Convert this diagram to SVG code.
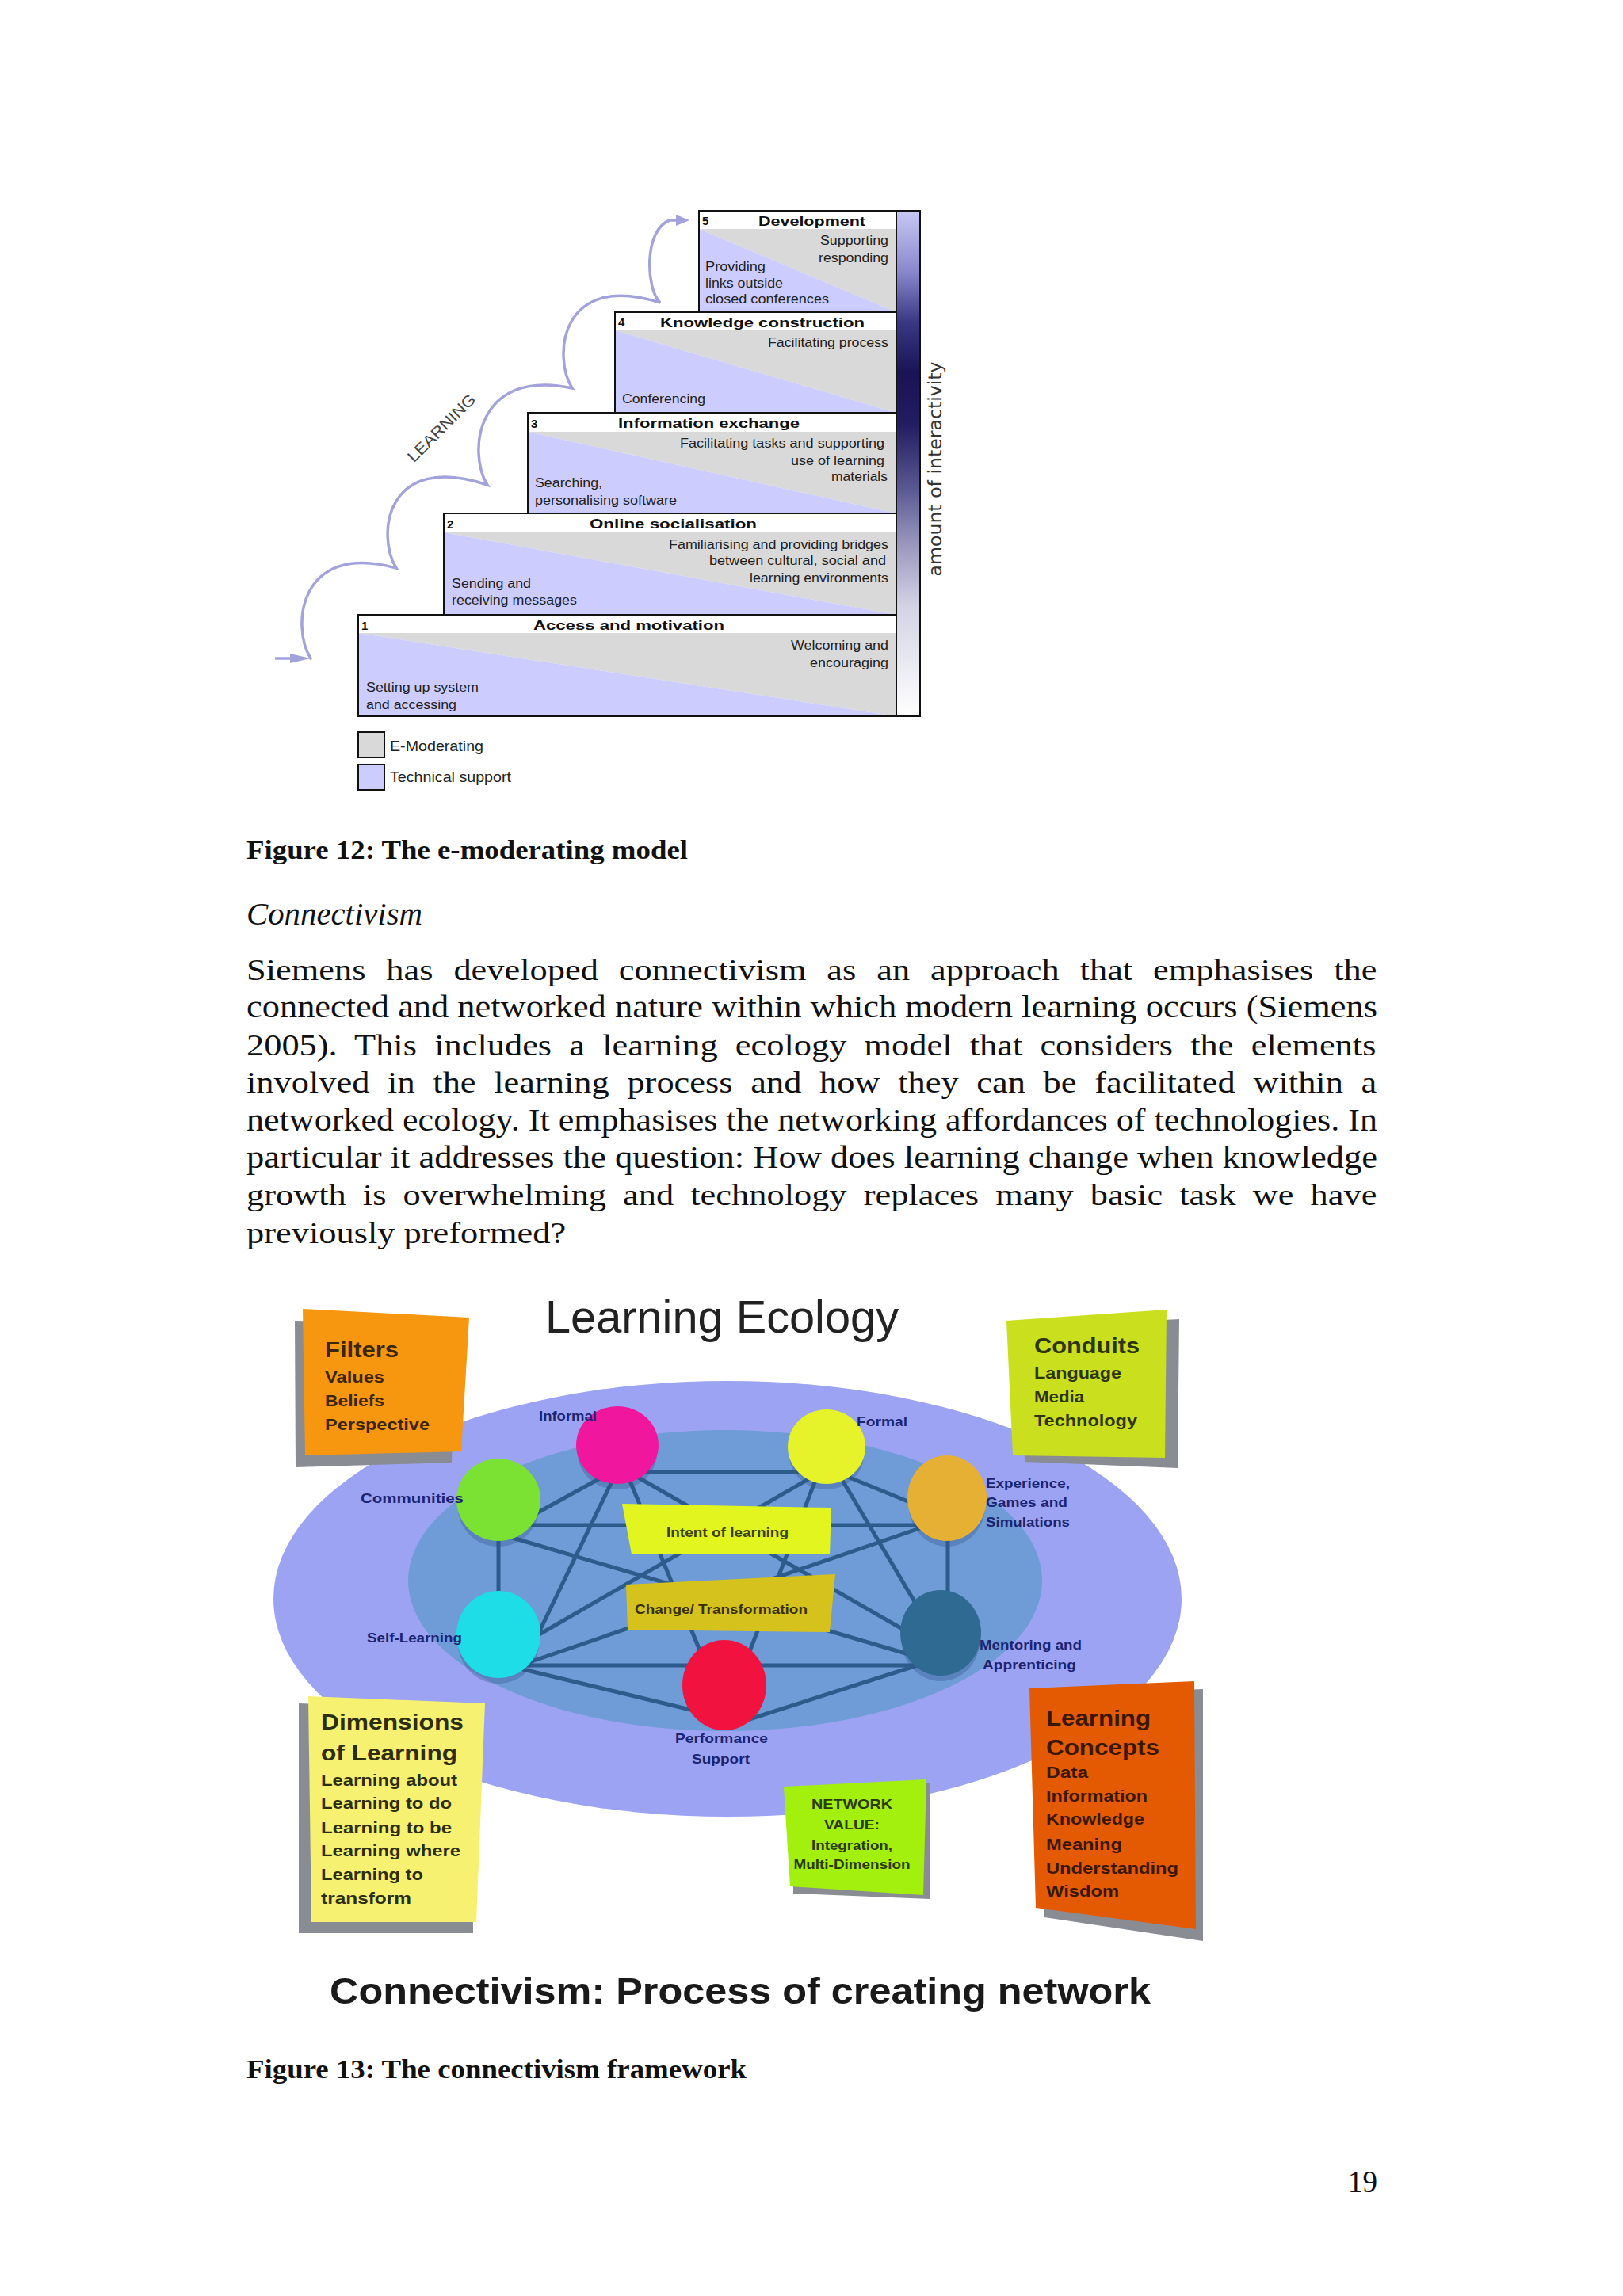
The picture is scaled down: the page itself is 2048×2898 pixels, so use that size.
<svg xmlns="http://www.w3.org/2000/svg" width="2048" height="2898" viewBox="0 0 2048 2898">
<defs>
<linearGradient id="barGrad" x1="0" y1="0" x2="0" y2="1">
<stop offset="0" stop-color="#c8c8f4"/>
<stop offset="0.12" stop-color="#8a88cc"/>
<stop offset="0.22" stop-color="#3a3884"/>
<stop offset="0.32" stop-color="#1a1456"/>
<stop offset="0.42" stop-color="#221c60"/>
<stop offset="0.55" stop-color="#5a5892"/>
<stop offset="0.65" stop-color="#9492ba"/>
<stop offset="0.78" stop-color="#d2d2e4"/>
<stop offset="1" stop-color="#ffffff"/>
</linearGradient>
<style>
.sans{font-family:'Liberation Sans',Arial,sans-serif}
.ser{font-family:'Liberation Serif','Times New Roman',serif}
.hdr{font-family:'Liberation Sans',Arial,sans-serif;font-weight:bold;font-size:17px;fill:#111}
.num{font-family:'Liberation Sans',Arial,sans-serif;font-weight:bold;font-size:15px;fill:#111}
.bt{font-family:'Liberation Sans',Arial,sans-serif;font-size:16px;fill:#222}
.end{text-anchor:end}
.lg{font-family:'Liberation Sans',Arial,sans-serif;font-size:19px;fill:#222}
.boxo{fill:none;stroke:#111;stroke-width:2}
.grey{fill:#d9d9d9}
.lav{fill:#ccccff}
.hd{fill:#ffffff}
.curve{fill:none;stroke:#a2a2dc;stroke-width:3.5;stroke-linecap:round}
.body{font-family:'Liberation Serif','Times New Roman',serif;font-size:39px;fill:#111}
.cap{font-family:'Liberation Serif','Times New Roman',serif;font-size:34px;font-weight:bold;fill:#111}
.edge{stroke:#2d5c8c;stroke-width:5;stroke-linecap:round}
.lab{font-family:'Liberation Sans',Arial,sans-serif;font-weight:bold;font-size:17px;fill:#1c2472}
.st1{font-family:'Liberation Sans',Arial,sans-serif;font-weight:bold;font-size:28px}
.st2{font-family:'Liberation Sans',Arial,sans-serif;font-weight:bold;font-size:21px}
.st3{font-family:'Liberation Sans',Arial,sans-serif;font-weight:bold;font-size:17px}
.shadow{fill:#8a8c94}
.cs{fill:#34548c;opacity:0.35}
</style>
</defs>
<rect x="0" y="0" width="2048" height="2898" fill="#ffffff"/>

<!-- ===== Figure 12: e-moderating model ===== -->
<g id="stage1">
<rect class="hd" x="452" y="776" width="679" height="23"/>
<polygon class="grey" points="452,799 1131,799 1131,904"/>
<polygon class="lav" points="452,799 1131,904 452,904"/>
<rect class="boxo" x="452" y="776" width="679" height="128"/>
<text class="num" x="456" y="795">1</text>
<text class="hdr" x="673" y="795" textLength="241" lengthAdjust="spacingAndGlyphs">Access and motivation</text>
<text class="bt end" x="1121" y="820" textLength="123" lengthAdjust="spacingAndGlyphs">Welcoming and</text>
<text class="bt end" x="1121" y="842" textLength="99" lengthAdjust="spacingAndGlyphs">encouraging</text>
<text class="bt" x="462" y="873" textLength="142" lengthAdjust="spacingAndGlyphs">Setting up system</text>
<text class="bt" x="462" y="895" textLength="114" lengthAdjust="spacingAndGlyphs">and accessing</text>
</g>
<g id="stage2">
<rect class="hd" x="560" y="648" width="571" height="24"/>
<polygon class="grey" points="560,672 1131,672 1131,776"/>
<polygon class="lav" points="560,672 1131,776 560,776"/>
<rect class="boxo" x="560" y="648" width="571" height="128"/>
<text class="num" x="564" y="667">2</text>
<text class="hdr" x="744" y="667" textLength="211" lengthAdjust="spacingAndGlyphs">Online socialisation</text>
<text class="bt end" x="1121" y="693" textLength="277" lengthAdjust="spacingAndGlyphs">Familiarising and providing bridges</text>
<text class="bt end" x="1118" y="713" textLength="223" lengthAdjust="spacingAndGlyphs">between cultural, social and</text>
<text class="bt end" x="1121" y="735" textLength="175" lengthAdjust="spacingAndGlyphs">learning environments</text>
<text class="bt" x="570" y="742" textLength="100" lengthAdjust="spacingAndGlyphs">Sending and</text>
<text class="bt" x="570" y="763" textLength="158" lengthAdjust="spacingAndGlyphs">receiving messages</text>
</g>
<g id="stage3">
<rect class="hd" x="666" y="521" width="465" height="24"/>
<polygon class="grey" points="666,545 1131,545 1131,648"/>
<polygon class="lav" points="666,545 1131,648 666,648"/>
<rect class="boxo" x="666" y="521" width="465" height="127"/>
<text class="num" x="670" y="540">3</text>
<text class="hdr" x="780" y="540" textLength="229" lengthAdjust="spacingAndGlyphs">Information exchange</text>
<text class="bt end" x="1116" y="565" textLength="258" lengthAdjust="spacingAndGlyphs">Facilitating tasks and supporting</text>
<text class="bt end" x="1116" y="587" textLength="118" lengthAdjust="spacingAndGlyphs">use of learning</text>
<text class="bt end" x="1120" y="607" textLength="71" lengthAdjust="spacingAndGlyphs">materials</text>
<text class="bt" x="675" y="615" textLength="85" lengthAdjust="spacingAndGlyphs">Searching,</text>
<text class="bt" x="675" y="637" textLength="179" lengthAdjust="spacingAndGlyphs">personalising software</text>
</g>
<g id="stage4">
<rect class="hd" x="776" y="394" width="355" height="23"/>
<polygon class="grey" points="776,417 1131,417 1131,521"/>
<polygon class="lav" points="776,417 1131,521 776,521"/>
<rect class="boxo" x="776" y="394" width="355" height="127"/>
<text class="num" x="780" y="412">4</text>
<text class="hdr" x="833" y="413" textLength="258" lengthAdjust="spacingAndGlyphs">Knowledge construction</text>
<text class="bt end" x="1121" y="438" textLength="152" lengthAdjust="spacingAndGlyphs">Facilitating process</text>
<text class="bt" x="785" y="509" textLength="105" lengthAdjust="spacingAndGlyphs">Conferencing</text>
</g>
<g id="stage5">
<rect class="hd" x="882" y="266" width="249" height="23"/>
<polygon class="grey" points="882,289 1131,289 1131,394"/>
<polygon class="lav" points="882,289 1131,394 882,394"/>
<rect class="boxo" x="882" y="266" width="249" height="128"/>
<text class="num" x="886" y="284">5</text>
<text class="hdr" x="957" y="285" textLength="135" lengthAdjust="spacingAndGlyphs">Development</text>
<text class="bt end" x="1121" y="309" textLength="86" lengthAdjust="spacingAndGlyphs">Supporting</text>
<text class="bt end" x="1121" y="331" textLength="88" lengthAdjust="spacingAndGlyphs">responding</text>
<text class="bt" x="890" y="342" textLength="76" lengthAdjust="spacingAndGlyphs">Providing</text>
<text class="bt" x="890" y="363" textLength="98" lengthAdjust="spacingAndGlyphs">links outside</text>
<text class="bt" x="890" y="383" textLength="156" lengthAdjust="spacingAndGlyphs">closed conferences</text>
</g>
<g id="interactivity-bar">
<rect x="1131" y="266" width="30" height="638" fill="url(#barGrad)" stroke="#111" stroke-width="2"/>
<text transform="translate(1188,592) rotate(-90)" text-anchor="middle" font-family="'DejaVu Sans',Verdana,sans-serif" font-size="23" fill="#333" textLength="271" lengthAdjust="spacingAndGlyphs">amount of interactivity</text>
</g>
<g id="legend">
<rect x="452" y="924" width="33" height="32" fill="#d9d9d9" stroke="#111" stroke-width="2"/>
<text class="lg" x="492" y="948" textLength="118" lengthAdjust="spacingAndGlyphs">E-Moderating</text>
<rect x="452" y="965" width="33" height="32" fill="#ccccff" stroke="#111" stroke-width="2"/>
<text class="lg" x="492" y="987" textLength="153" lengthAdjust="spacingAndGlyphs">Technical support</text>
</g>
<g id="learning-path">
<path class="curve" d="M392,831 C367,791 377,683 500,717 C475,677 485,569 615,612 C590,572 600,464 722,490 C697,450 707,342 833,382 C815,365 812,290 845,278 L858,278"/>
<polygon points="853,271 870,278 853,285" fill="#a2a2dc"/>
<line x1="347" y1="831" x2="372" y2="831" stroke="#a2a2dc" stroke-width="3.5"/>
<polygon points="366,825 392,831 366,837" fill="#a2a2dc"/>
<text transform="translate(557,540) rotate(-45)" text-anchor="middle" y="7" class="sans" font-size="20" fill="#444" textLength="112" lengthAdjust="spacingAndGlyphs">LEARNING</text>
</g>

<!-- ===== Text ===== -->
<text class="cap" x="311" y="1084" textLength="557" lengthAdjust="spacingAndGlyphs">Figure 12: The e-moderating model</text>
<text class="ser" x="311" y="1167" font-size="40" font-style="italic" fill="#111" textLength="222" lengthAdjust="spacingAndGlyphs">Connectivism</text>
<g id="paragraph">
<g transform="translate(311,0) scale(1.139,1)">
<text class="body" x="0" y="1237" word-spacing="12.97">Siemens has developed connectivism as an approach that emphasises the</text>
<text class="body" x="0" y="1332" word-spacing="9.71">2005). This includes a learning ecology model that considers the elements</text>
<text class="body" x="0" y="1379" word-spacing="10.17">involved in the learning process and how they can be facilitated within a</text>
<text class="body" x="0" y="1521" word-spacing="8.75">growth is overwhelming and technology replaces many basic task we have</text>
<text class="body" x="0" y="1569">previously preformed?</text>
</g>
<text class="body" x="311" y="1284" textLength="1427" lengthAdjust="spacingAndGlyphs">connected and networked nature within which modern learning occurs (Siemens</text>
<text class="body" x="311" y="1427" textLength="1427" lengthAdjust="spacingAndGlyphs">networked ecology. It emphasises the networking affordances of technologies. In</text>
<text class="body" x="311" y="1474" textLength="1427" lengthAdjust="spacingAndGlyphs">particular it addresses the question: How does learning change when knowledge</text>
</g>

<!-- ===== Figure 13: Learning ecology ===== -->
<g id="ecology-background">
<ellipse cx="918" cy="2018" rx="573" ry="275" fill="#9ba3f2"/>
<ellipse cx="915" cy="1995" rx="400" ry="190" fill="#6f9bd6"/>
</g>
<text class="sans" x="688" y="1682" font-size="57" fill="#222" textLength="446" lengthAdjust="spacingAndGlyphs">Learning Ecology</text>
<g id="filters">
<polygon class="shadow" points="372,1667 575,1672 570,1846 373,1852"/>
<polygon points="382,1652 592,1663 582,1832 385,1837" fill="#f7960f"/>
<text class="st1" x="410" y="1713" fill="#3b2608" textLength="93" lengthAdjust="spacingAndGlyphs">Filters</text>
<text class="st2" x="410" y="1745" fill="#3b2608" textLength="75" lengthAdjust="spacingAndGlyphs">Values</text>
<text class="st2" x="410" y="1775" fill="#3b2608" textLength="75" lengthAdjust="spacingAndGlyphs">Beliefs</text>
<text class="st2" x="410" y="1805" fill="#3b2608" textLength="132" lengthAdjust="spacingAndGlyphs">Perspective</text>
</g>
<g id="conduits">
<polygon class="shadow" points="1290,1675 1488,1665 1486,1853 1293,1845"/>
<polygon points="1270,1667 1472,1653 1470,1840 1278,1837" fill="#cadf1e"/>
<text class="st1" x="1305" y="1708" fill="#2d3510" textLength="133" lengthAdjust="spacingAndGlyphs">Conduits</text>
<text class="st2" x="1305" y="1740" fill="#2d3510" textLength="110" lengthAdjust="spacingAndGlyphs">Language</text>
<text class="st2" x="1305" y="1770" fill="#2d3510" textLength="63" lengthAdjust="spacingAndGlyphs">Media</text>
<text class="st2" x="1305" y="1800" fill="#2d3510" textLength="130" lengthAdjust="spacingAndGlyphs">Technology</text>
</g>
<g id="connectors">
<line class="edge" x1="790" y1="1858" x2="1020" y2="1858"/>
<line class="edge" x1="768" y1="1860" x2="668" y2="1915"/>
<line class="edge" x1="790" y1="1856" x2="1170" y2="2074"/>
<line class="edge" x1="785" y1="1845" x2="890" y2="2100"/>
<line class="edge" x1="776" y1="1862" x2="672" y2="2077"/>
<line class="edge" x1="660" y1="1925" x2="1170" y2="1925"/>
<line class="edge" x1="629" y1="1920" x2="629" y2="2040"/>
<line class="edge" x1="640" y1="1939" x2="1160" y2="2092"/>
<line class="edge" x1="1025" y1="1864" x2="670" y2="2069"/>
<line class="edge" x1="1036" y1="1850" x2="940" y2="2100"/>
<line class="edge" x1="1055" y1="1855" x2="1165" y2="2040"/>
<line class="edge" x1="1060" y1="1860" x2="1170" y2="1905"/>
<line class="edge" x1="1175" y1="1924" x2="665" y2="2099"/>
<line class="edge" x1="1196" y1="1930" x2="1196" y2="2030"/>
<line class="edge" x1="660" y1="2102" x2="1170" y2="2102"/>
<line class="edge" x1="660" y1="2107" x2="900" y2="2165"/>
<line class="edge" x1="930" y1="2175" x2="1170" y2="2098"/>
</g>
<g id="intent">
<polygon points="785,1898 1049,1903 1047,1962 797,1962" fill="#e2f51e"/>
<text class="st3" x="918" y="1940" text-anchor="middle" fill="#3a4010" textLength="154" lengthAdjust="spacingAndGlyphs">Intent of learning</text>
</g>
<g id="change">
<polygon points="790,2000 1054,1987 1047,2060 792,2057" fill="#d6c21c"/>
<text class="st3" x="910" y="2037" text-anchor="middle" fill="#3a3008" textLength="218" lengthAdjust="spacingAndGlyphs">Change/ Transformation</text>
</g>
<g id="informal"><ellipse class="cs" cx="779" cy="1834" rx="50" ry="46"/><ellipse cx="779" cy="1824" rx="52" ry="49" fill="#f0169e"/><text class="lab" x="680" y="1793" textLength="73" lengthAdjust="spacingAndGlyphs">Informal</text></g>
<g id="formal"><ellipse class="cs" cx="1043" cy="1836" rx="47" ry="44"/><ellipse cx="1043" cy="1826" rx="49" ry="47" fill="#e6f22a"/><text class="lab" x="1081" y="1800" textLength="64" lengthAdjust="spacingAndGlyphs">Formal</text></g>
<g id="experience"><ellipse class="cs" cx="1195" cy="1901" rx="48" ry="51"/><ellipse cx="1195" cy="1891" rx="50" ry="54" fill="#e6b035"/><text class="lab" x="1244" y="1878" textLength="106" lengthAdjust="spacingAndGlyphs">Experience,</text><text class="lab" x="1244" y="1902" textLength="103" lengthAdjust="spacingAndGlyphs">Games and</text><text class="lab" x="1244" y="1927" textLength="106" lengthAdjust="spacingAndGlyphs">Simulations</text></g>
<g id="communities"><ellipse class="cs" cx="629" cy="1903" rx="51" ry="49"/><ellipse cx="629" cy="1893" rx="53" ry="52" fill="#7be234"/><text class="lab" x="455" y="1897" textLength="130" lengthAdjust="spacingAndGlyphs">Communities</text></g>
<g id="self-learning"><ellipse class="cs" cx="629" cy="2073" rx="51" ry="52"/><ellipse cx="629" cy="2063" rx="53" ry="55" fill="#1fdde6"/><text class="lab" x="463" y="2073" textLength="120" lengthAdjust="spacingAndGlyphs">Self-Learning</text></g>
<g id="mentoring"><ellipse class="cs" cx="1187" cy="2071" rx="49" ry="51"/><ellipse cx="1187" cy="2061" rx="51" ry="54" fill="#2e6a92"/><text class="lab" x="1236" y="2082" textLength="129" lengthAdjust="spacingAndGlyphs">Mentoring and</text><text class="lab" x="1240" y="2107" textLength="118" lengthAdjust="spacingAndGlyphs">Apprenticing</text></g>
<g id="performance"><ellipse cx="914" cy="2127" rx="53" ry="57" fill="#f2123f"/><text class="lab" x="852" y="2200" textLength="117" lengthAdjust="spacingAndGlyphs">Performance</text><text class="lab" x="873" y="2226" textLength="73" lengthAdjust="spacingAndGlyphs">Support</text></g>
<g id="dimensions">
<polygon class="shadow" points="377,2150 595,2158 597,2440 377,2440"/>
<polygon points="389,2141 612,2150 601,2426 393,2426" fill="#f6f170"/>
<text class="st1" x="405" y="2183" fill="#2d2d10" textLength="180" lengthAdjust="spacingAndGlyphs">Dimensions</text>
<text class="st1" x="405" y="2222" fill="#2d2d10" textLength="172" lengthAdjust="spacingAndGlyphs">of Learning</text>
<text class="st2" x="405" y="2254" fill="#2d2d10" textLength="172" lengthAdjust="spacingAndGlyphs">Learning about</text>
<text class="st2" x="405" y="2283" fill="#2d2d10" textLength="165" lengthAdjust="spacingAndGlyphs">Learning to do</text>
<text class="st2" x="405" y="2314" fill="#2d2d10" textLength="165" lengthAdjust="spacingAndGlyphs">Learning to be</text>
<text class="st2" x="405" y="2343" fill="#2d2d10" textLength="176" lengthAdjust="spacingAndGlyphs">Learning where</text>
<text class="st2" x="405" y="2373" fill="#2d2d10" textLength="129" lengthAdjust="spacingAndGlyphs">Learning to</text>
<text class="st2" x="405" y="2403" fill="#2d2d10" textLength="114" lengthAdjust="spacingAndGlyphs">transform</text>
</g>
<g id="network-value">
<polygon class="shadow" points="1001,2262 1174,2250 1173,2397 1001,2390"/>
<polygon points="989,2255 1169,2246 1165,2392 997,2381" fill="#a3ef0d"/>
<text class="st3" x="1075" y="2283" text-anchor="middle" fill="#2a3a08" textLength="102" lengthAdjust="spacingAndGlyphs">NETWORK</text>
<text class="st3" x="1075" y="2309" text-anchor="middle" fill="#2a3a08" textLength="70" lengthAdjust="spacingAndGlyphs">VALUE:</text>
<text class="st3" x="1075" y="2335" text-anchor="middle" fill="#2a3a08" textLength="102" lengthAdjust="spacingAndGlyphs">Integration,</text>
<text class="st3" x="1075" y="2359" text-anchor="middle" fill="#2a3a08" textLength="147" lengthAdjust="spacingAndGlyphs">Multi-Dimension</text>
</g>
<g id="learning-concepts">
<polygon class="shadow" points="1312,2140 1518,2132 1518,2450 1318,2420"/>
<polygon points="1299,2131 1507,2122 1509,2435 1307,2408" fill="#e45a03"/>
<text class="st1" x="1320" y="2178" fill="#3a1800" textLength="132" lengthAdjust="spacingAndGlyphs">Learning</text>
<text class="st1" x="1320" y="2215" fill="#3a1800" textLength="143" lengthAdjust="spacingAndGlyphs">Concepts</text>
<text class="st2" x="1320" y="2244" fill="#3a1800" textLength="53" lengthAdjust="spacingAndGlyphs">Data</text>
<text class="st2" x="1320" y="2274" fill="#3a1800" textLength="128" lengthAdjust="spacingAndGlyphs">Information</text>
<text class="st2" x="1320" y="2303" fill="#3a1800" textLength="124" lengthAdjust="spacingAndGlyphs">Knowledge</text>
<text class="st2" x="1320" y="2335" fill="#3a1800" textLength="96" lengthAdjust="spacingAndGlyphs">Meaning</text>
<text class="st2" x="1320" y="2365" fill="#3a1800" textLength="167" lengthAdjust="spacingAndGlyphs">Understanding</text>
<text class="st2" x="1320" y="2394" fill="#3a1800" textLength="92" lengthAdjust="spacingAndGlyphs">Wisdom</text>
</g>
<text class="sans" x="416" y="2529" font-size="46" font-weight="bold" fill="#1a1a1a" textLength="1036" lengthAdjust="spacingAndGlyphs">Connectivism: Process of creating network</text>
<text class="cap" x="311" y="2623" textLength="631" lengthAdjust="spacingAndGlyphs">Figure 13: The connectivism framework</text>
<text class="ser" x="1701" y="2767" font-size="40" fill="#111" textLength="37" lengthAdjust="spacingAndGlyphs">19</text>
</svg>
